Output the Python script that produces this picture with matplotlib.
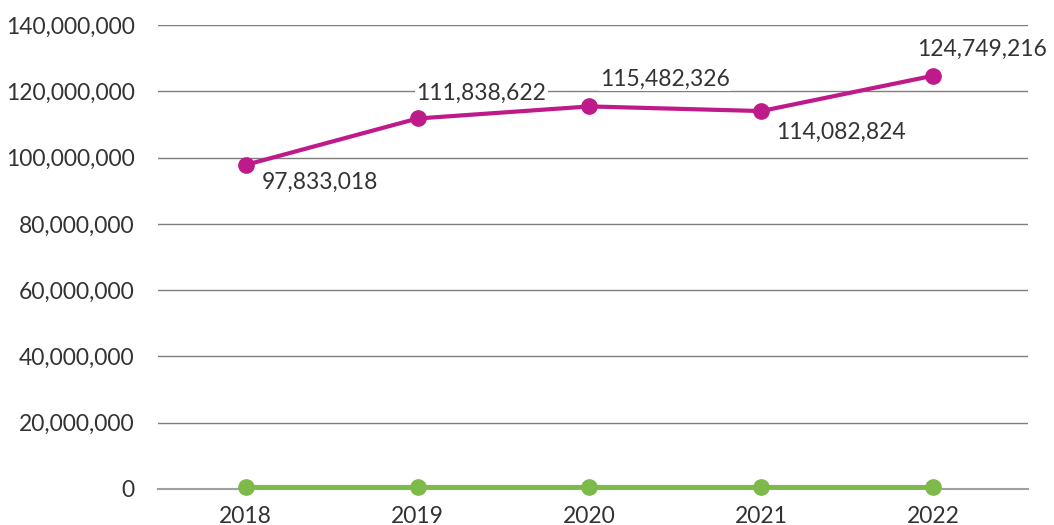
import matplotlib.pyplot as plt
from matplotlib.ticker import FuncFormatter

years = ['2018', '2019', '2020', '2021', '2022']
series_a = [97833018, 111838622, 115482326, 114082824, 124749216]
series_b = [500000, 500000, 500000, 500000, 500000]
label_offsets = [(16, -17), (-1, 25), (11, 27), (15, -21), (-16, 26)]

magenta = '#BE1A8A'
green = '#7DB94B'

plt.rcParams['font.family'] = ['Lato', 'DejaVu Sans']

fig = plt.figure(figsize=(10.54, 5.25), dpi=100)
ax = fig.add_axes([0.15, 0.0686, 0.825, 0.8834])

x = list(range(len(years)))
ax.plot(x, series_b, color=green, lw=3, marker='o', ms=11, zorder=3, clip_on=False)
ax.plot(x, series_a, color=magenta, lw=3, marker='o', ms=11, zorder=4)

for i, v in enumerate(series_a):
    dx, dy = label_offsets[i]
    ax.annotate(f'{v:,}', (i, v), xytext=(dx, dy), textcoords='offset pixels',
                ha='left', va='center', fontsize=16.5, color='#333333', zorder=5,
                bbox=dict(boxstyle='square,pad=0.05', fc='white', ec='none'))

ax.set_xlim(-0.51, 4.55)
ax.set_ylim(0, 140000000)
ax.set_yticks(range(0, 140000001, 20000000))
ax.yaxis.set_major_formatter(FuncFormatter(lambda v, p: f'{int(v):,}'))
ax.set_xticks(x)
ax.set_xticklabels(years)
ax.tick_params(length=0, labelsize=16.5, colors='#333333')
ax.tick_params(axis='y', pad=17)
ax.tick_params(axis='x', pad=12)
ax.grid(axis='y', color='#7f7f7f', lw=1)
ax.set_axisbelow(True)
for s in ['top', 'right', 'left']:
    ax.spines[s].set_visible(False)
ax.spines['bottom'].set_color('#a0a0a0')
ax.spines['bottom'].set_linewidth(1.5)

fig.savefig('out.png', dpi=100)
